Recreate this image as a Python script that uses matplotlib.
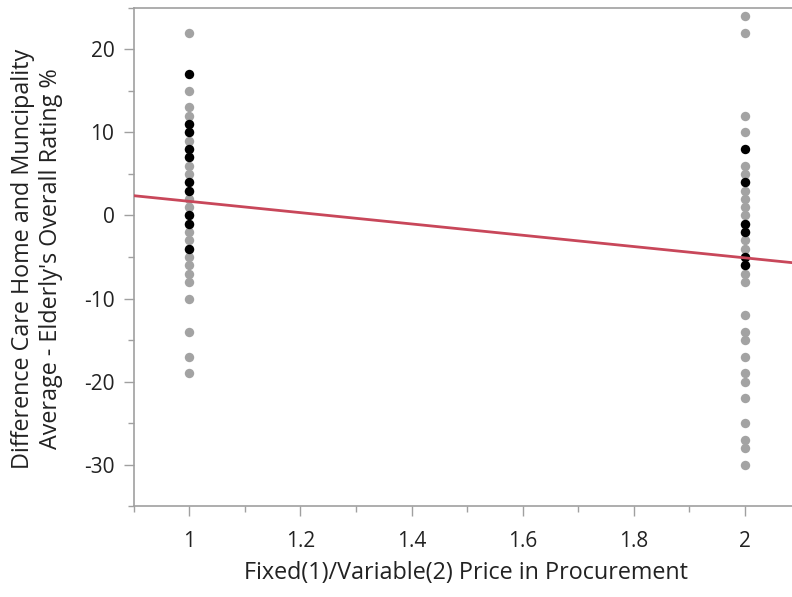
import numpy as np
import matplotlib
matplotlib.use("Agg")
import matplotlib.pyplot as plt
from matplotlib.ticker import MultipleLocator

plt.rcParams["font.family"] = ["Open Sans", "DejaVu Sans"]
plt.rcParams["axes.unicode_minus"] = False

# grey points (all rows) and black points (highlighted rows)
x1_grey = [22, 15, 13, 12, 11, 10, 9, 8, 7, 6, 5, 4, 3, 2, 1, 0, -1, -2, -3,
           -4, -5, -6, -7, -8, -10, -14, -17, -19]
x1_black = [17, 11, 10, 8, 7, 4, 3, 0, -1, -4]
x2_grey = [24, 22, 12, 10, 6, 5, 4, 3, 2, 1, 0, -1, -2, -3, -4, -5, -6, -7, -8,
           -12, -14, -15, -17, -19, -20, -22, -25, -27, -28, -30]
x2_black = [8, 4, -1, -2, -5, -6]

# fitted line
fit_intercept = 8.5
fit_slope = -6.8

fig = plt.figure(figsize=(7.92, 5.97), dpi=100)
ax = fig.add_axes([0.169, 0.152, 0.831, 0.835])

grey = "#a3a3a3"
ax.scatter([1] * len(x1_grey), x1_grey, s=46, c=grey, zorder=2, linewidths=0)
ax.scatter([2] * len(x2_grey), x2_grey, s=46, c=grey, zorder=2, linewidths=0)
ax.scatter([1] * len(x1_black), x1_black, s=46, c="black", zorder=3, linewidths=0)
ax.scatter([2] * len(x2_black), x2_black, s=46, c="black", zorder=3, linewidths=0)

xs = np.array([0.9, 2.085])
ax.plot(xs, fit_intercept + fit_slope * xs, color="#c8475a", lw=2, zorder=4)

ax.set_xlim(0.9, 2.085)
ax.set_ylim(-35, 25)
ax.xaxis.set_minor_locator(MultipleLocator(0.1))
ax.yaxis.set_major_locator(MultipleLocator(10))
ax.yaxis.set_minor_locator(MultipleLocator(5))
ax.set_xticks([1, 1.2, 1.4, 1.6, 1.8, 2])
ax.set_xticklabels(["1", "1.2", "1.4", "1.6", "1.8", "2"])

for sp in ax.spines.values():
    sp.set_color("#a0a0a0")
    sp.set_linewidth(1.2)
ax.spines["right"].set_visible(False)

ax.tick_params(which="major", length=7, width=1, color="#a0a0a0",
               labelsize=15, labelcolor="#222222")
ax.tick_params(axis="x", which="major", pad=11)
ax.tick_params(axis="y", which="major", pad=7)
ax.tick_params(which="minor", length=4, width=1, color="#a0a0a0")

fig.text(0.588, 0.040, "Fixed(1)/Variable(2) Price in Procurement",
         fontsize=16.8, color="#222222", ha="center", va="center")
fig.text(0.047, 0.566,
         "Difference Care Home and Muncipality\nAverage - Elderly's Overall Rating %",
         fontsize=16.8, color="#222222", ha="center", va="center",
         rotation=90, linespacing=1.2, multialignment="center")

fig.savefig("out.png", dpi=100)
